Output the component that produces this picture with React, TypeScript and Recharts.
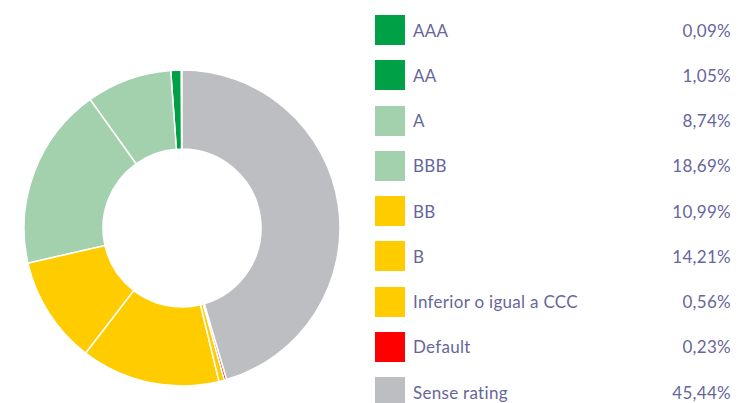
import { PieChart, Pie, Cell, Legend } from "recharts";

const ratings = [
  "AAA",
  "AA",
  "A",
  "BBB",
  "BB",
  "B",
  "Inferior o igual a CCC",
  "Default",
  "Sense rating",
];
const shares = [0.09, 1.05, 8.74, 18.69, 10.99, 14.21, 0.56, 0.23, 45.44];
const colors = [
  "#00a046",
  "#00a046",
  "#a3d1ae",
  "#a3d1ae",
  "#ffcc00",
  "#ffcc00",
  "#ffcc00",
  "#ff0000",
  "#bcbec2",
];

const data = ratings.map((name, i) => ({ name, value: shares[i] }));

const fmt = (v: number) => v.toFixed(2).replace(".", ",") + "%";

function RatingLegend() {
  return (
    <div style={{ position: "relative", width: 360, height: 403 }}>
      {data.map((d, i) => (
        <div
          key={d.name}
          style={{
            position: "absolute",
            left: 0,
            top: 15 + i * 45.25,
            width: 356,
            height: 30,
            display: "flex",
            alignItems: "center",
          }}
        >
          <div style={{ width: 30, height: 30, background: colors[i] }} />
          <span style={{ marginLeft: 8, flex: 1, letterSpacing: 0.3 }}>{d.name}</span>
          <span style={{ letterSpacing: 0.3 }}>{fmt(d.value)}</span>
        </div>
      ))}
    </div>
  );
}

export default function App() {
  return (
    <div
      style={{
        position: "absolute",
        left: 0,
        top: 0,
        width: 749,
        height: 403,
        background: "#fff",
        fontFamily: "Lato, 'Noto Sans', sans-serif",
        fontSize: 17,
        color: "#66669c",
      }}
    >
      <PieChart width={749} height={403} margin={{ top: 0, right: 0, bottom: 0, left: 0 }}>
        <Pie
          data={data}
          dataKey="value"
          nameKey="name"
          cx={182}
          cy={228}
          innerRadius={79}
          outerRadius={158}
          startAngle={90}
          endAngle={450}
          stroke="#ffffff"
          strokeWidth={1.5}
          isAnimationActive={false}
        >
          {data.map((d, i) => (
            <Cell key={d.name} fill={colors[i]} />
          ))}
        </Pie>
        <Legend
          content={<RatingLegend />}
          wrapperStyle={{ position: "absolute", left: 375, top: 0, width: 360, height: 403 }}
        />
      </PieChart>
    </div>
  );
}
